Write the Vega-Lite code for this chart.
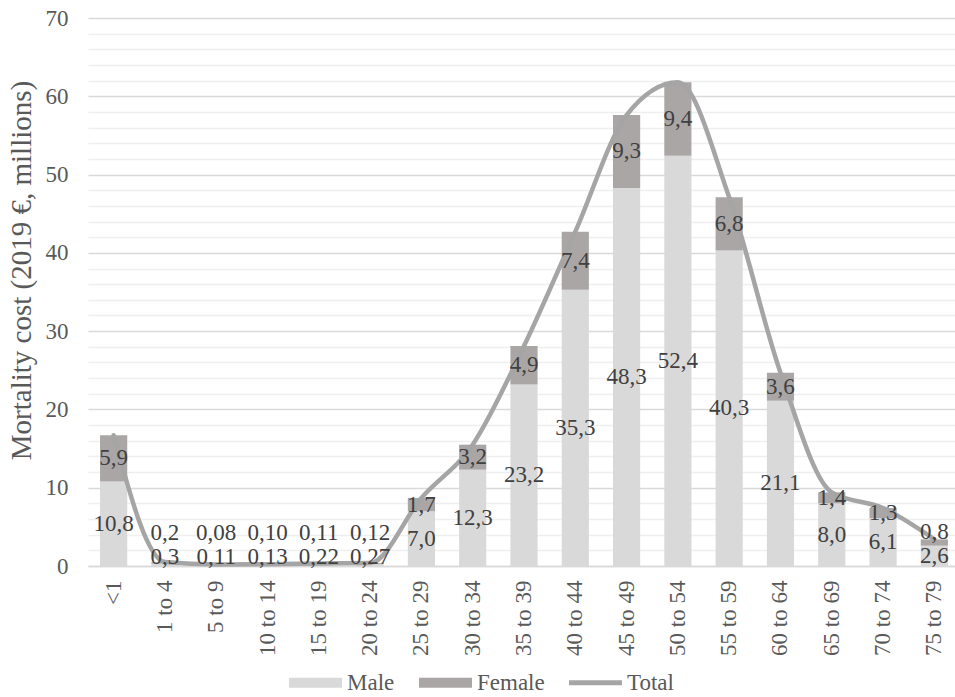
{
  "$schema": "https://vega.github.io/schema/vega-lite/v6.json",
  "width": 872,
  "height": 548,
  "autosize": {"type": "none"},
  "padding": {"left": 88, "top": 18, "right": 0, "bottom": 131},
  "background": "white",
  "config": {
    "view": {"stroke": null},
    "font": "Liberation Serif"
  },
  "data": {
    "values": [
      {"age": "<1", "sex": "Male", "value": 10.8, "label": "10,8"},
      {"age": "<1", "sex": "Female", "value": 5.9, "label": "5,9"},
      {"age": "1 to 4", "sex": "Male", "value": 0.3, "label": "0,3"},
      {"age": "1 to 4", "sex": "Female", "value": 0.2, "label": "0,2"},
      {"age": "5 to 9", "sex": "Male", "value": 0.11, "label": "0,11"},
      {"age": "5 to 9", "sex": "Female", "value": 0.08, "label": "0,08"},
      {"age": "10 to 14", "sex": "Male", "value": 0.13, "label": "0,13"},
      {"age": "10 to 14", "sex": "Female", "value": 0.10, "label": "0,10"},
      {"age": "15 to 19", "sex": "Male", "value": 0.22, "label": "0,22"},
      {"age": "15 to 19", "sex": "Female", "value": 0.11, "label": "0,11"},
      {"age": "20 to 24", "sex": "Male", "value": 0.27, "label": "0,27"},
      {"age": "20 to 24", "sex": "Female", "value": 0.12, "label": "0,12"},
      {"age": "25 to 29", "sex": "Male", "value": 7.0, "label": "7,0"},
      {"age": "25 to 29", "sex": "Female", "value": 1.7, "label": "1,7"},
      {"age": "30 to 34", "sex": "Male", "value": 12.3, "label": "12,3"},
      {"age": "30 to 34", "sex": "Female", "value": 3.2, "label": "3,2"},
      {"age": "35 to 39", "sex": "Male", "value": 23.2, "label": "23,2"},
      {"age": "35 to 39", "sex": "Female", "value": 4.9, "label": "4,9"},
      {"age": "40 to 44", "sex": "Male", "value": 35.3, "label": "35,3"},
      {"age": "40 to 44", "sex": "Female", "value": 7.4, "label": "7,4"},
      {"age": "45 to 49", "sex": "Male", "value": 48.3, "label": "48,3"},
      {"age": "45 to 49", "sex": "Female", "value": 9.3, "label": "9,3"},
      {"age": "50 to 54", "sex": "Male", "value": 52.4, "label": "52,4"},
      {"age": "50 to 54", "sex": "Female", "value": 9.4, "label": "9,4"},
      {"age": "55 to 59", "sex": "Male", "value": 40.3, "label": "40,3"},
      {"age": "55 to 59", "sex": "Female", "value": 6.8, "label": "6,8"},
      {"age": "60 to 64", "sex": "Male", "value": 21.1, "label": "21,1"},
      {"age": "60 to 64", "sex": "Female", "value": 3.6, "label": "3,6"},
      {"age": "65 to 69", "sex": "Male", "value": 8.0, "label": "8,0"},
      {"age": "65 to 69", "sex": "Female", "value": 1.4, "label": "1,4"},
      {"age": "70 to 74", "sex": "Male", "value": 6.1, "label": "6,1"},
      {"age": "70 to 74", "sex": "Female", "value": 1.3, "label": "1,3"},
      {"age": "75 to 79", "sex": "Male", "value": 2.6, "label": "2,6"},
      {"age": "75 to 79", "sex": "Female", "value": 0.8, "label": "0,8"}
    ]
  },
  "resolve": {"axis": {"y": "independent"}},
  "layer": [
    {
      "mark": {"type": "bar"},
      "encoding": {
        "x": {
          "field": "age", "type": "nominal",
          "sort": ["<1","1 to 4","5 to 9","10 to 14","15 to 19","20 to 24","25 to 29","30 to 34","35 to 39","40 to 44","45 to 49","50 to 54","55 to 59","60 to 64","65 to 69","70 to 74","75 to 79"],
          "scale": {"paddingInner": 0.47, "paddingOuter": 0.235},
          "axis": {"title": null, "labelAngle": -90, "labelAlign": "right", "labelBaseline": "middle", "labelFont": "Liberation Serif", "labelFontSize": 23, "labelColor": "#595959", "labelPadding": 14, "ticks": false, "domainColor": "#d9d9d9", "domainWidth": 1.5}
        },
        "y": {
          "field": "value", "type": "quantitative", "stack": "zero",
          "scale": {"domain": [0, 70], "nice": false},
          "axis": {"orient": "right", "values": [2,4,6,8,12,14,16,18,22,24,26,28,32,34,36,38,42,44,46,48,52,54,56,58,62,64,66,68], "grid": true, "gridColor": "#efefef", "gridWidth": 1.3, "labels": false, "ticks": false, "domain": false, "title": null}
        },
        "color": {
          "field": "sex", "type": "nominal",
          "scale": {"domain": ["Male", "Female", "Total"], "range": ["#d9d9d9", "#aaa6a6", "#a5a5a5"]},
          "legend": {
            "title": null, "orient": "none", "direction": "horizontal",
            "legendX": 201, "legendY": 638,
            "labelFont": "Liberation Serif",
            "labelFontSize": 23, "labelColor": "#595959", "labelOffset": 5,
            "columnPadding": 24, "symbolSize": 2809, "symbolStrokeWidth": 0,
            "encode": {
              "symbols": {
                "update": {
                  "shape": {"signal": "datum.value === 'Total' ? 'M-1,-0.09H1V0.09H-1Z' : 'M-1,-0.19H1V0.19H-1Z'"},
                  "fill": {"scale": "color", "field": "value"},
                  "stroke": {"value": "transparent"},
                  "opacity": {"value": 1}
                }
              }
            }
          }
        },
        "order": {"field": "sex", "sort": "descending"}
      }
    },
    {
      "transform": [
        {"aggregate": [{"op": "sum", "field": "value", "as": "total"}], "groupby": ["age"]}
      ],
      "mark": {"type": "line", "interpolate": "monotone", "strokeWidth": 4.5, "strokeCap": "round", "strokeJoin": "round"},
      "encoding": {
        "x": {
          "field": "age", "type": "nominal",
          "sort": ["<1","1 to 4","5 to 9","10 to 14","15 to 19","20 to 24","25 to 29","30 to 34","35 to 39","40 to 44","45 to 49","50 to 54","55 to 59","60 to 64","65 to 69","70 to 74","75 to 79"]
        },
        "y": {
          "field": "total", "type": "quantitative",
          "scale": {"domain": [0, 70], "nice": false},
          "axis": {"orient": "left", "values": [0,10,20,30,40,50,60,70], "grid": true, "gridColor": "#d9d9d9", "gridWidth": 1.5, "ticks": false, "domain": false, "labelFont": "Liberation Serif", "labelFontSize": 23, "labelColor": "#595959", "labelPadding": 20, "title": "Mortality cost (2019 €, millions)", "titleFont": "Liberation Serif", "titleFontSize": 29, "titleFontWeight": "normal", "titleColor": "#595959", "titlePadding": 9, "titleY": 252}
        },
        "color": {"datum": "Total"}
      }
    },
    {
      "transform": [
        {"stack": "value", "groupby": ["age"], "sort": [{"field": "sex", "order": "descending"}], "as": ["y0", "y1"]},
        {"calculate": "datum.sex === 'Male' ? max((datum.y0 + datum.y1) / 2, 1.2) : max((datum.y0 + datum.y1) / 2, max(datum.y0 / 2, 1.2) + 3)", "as": "ly"}
      ],
      "mark": {"type": "text", "font": "Liberation Serif", "fontSize": 23, "color": "#404040", "baseline": "middle", "align": "center"},
      "encoding": {
        "x": {
          "field": "age", "type": "nominal",
          "sort": ["<1","1 to 4","5 to 9","10 to 14","15 to 19","20 to 24","25 to 29","30 to 34","35 to 39","40 to 44","45 to 49","50 to 54","55 to 59","60 to 64","65 to 69","70 to 74","75 to 79"]
        },
        "y": {"field": "ly", "type": "quantitative", "scale": {"domain": [0, 70], "nice": false}, "axis": null},
        "text": {"field": "label"}
      }
    }
  ]
}
